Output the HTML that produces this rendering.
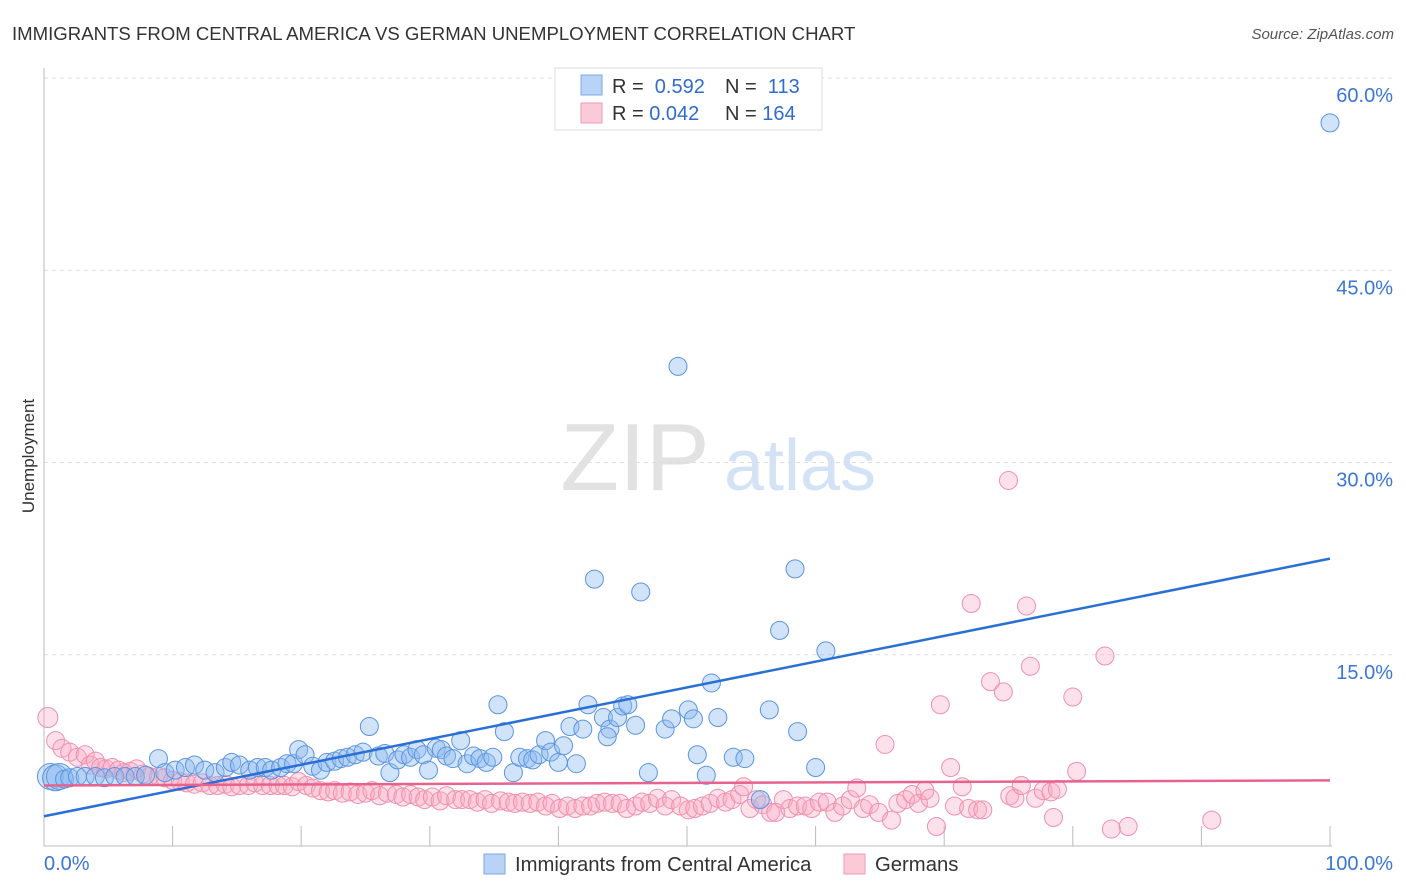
<!DOCTYPE html>
<html><head><meta charset="utf-8">
<style>
body{margin:0;background:#fff;font-family:"Liberation Sans",sans-serif;}
#wrap{position:relative;width:1406px;height:892px;overflow:hidden;}
svg text{font-family:"Liberation Sans",sans-serif;}
</style></head>
<body>
<div id="wrap">
<svg id="chart" width="1406" height="892">
  <text x="12" y="40" font-size="18.6" fill="#333">IMMIGRANTS FROM CENTRAL AMERICA VS GERMAN UNEMPLOYMENT CORRELATION CHART</text>
  <text x="1394" y="39" font-size="15" fill="#555" font-style="italic" text-anchor="end">Source: ZipAtlas.com</text>
  <text x="34" y="456" font-size="17" fill="#333" text-anchor="middle" transform="rotate(-90 34 456)">Unemployment</text>
  <g>
    <text x="635" y="490" font-size="96" fill="#e2e2e2" font-family="Liberation Serif" text-anchor="middle">ZIP</text>
    <text x="800" y="490" font-size="72" fill="#d3e2f4" text-anchor="middle">atlas</text>
  </g>
  <g id="grid"></g>
  <g id="axes"></g>
  <g id="pink"></g>
  <g id="blue"></g>
  <g id="trends"></g>
  <g>
    <rect x="555" y="68" width="267" height="62" fill="#fff" stroke="#ddd"/>
    <rect x="581" y="75" width="21" height="20" fill="#b8d3f5" stroke="#7aaae6"/>
    <text x="612" y="93" font-size="20" fill="#333">R = <tspan fill="#2f6bd0">&#160;0.592</tspan></text>
    <text x="725" y="93" font-size="20" fill="#333">N = <tspan fill="#2f6bd0">&#160;113</tspan></text>
    <rect x="581" y="103" width="21" height="20" fill="#fbcad8" stroke="#f09ab4"/>
    <text x="612" y="120" font-size="20" fill="#333">R = <tspan fill="#2f6bd0">0.042</tspan></text>
    <text x="725" y="120" font-size="20" fill="#333">N = <tspan fill="#2f6bd0">164</tspan></text>
  </g>
  <g>
    <rect x="484" y="854" width="21" height="20" fill="#b8d3f5" stroke="#7aaae6"/>
    <text x="515" y="871" font-size="20.3" fill="#333">Immigrants from Central America</text>
    <rect x="844" y="854" width="21" height="20" fill="#fbcad8" stroke="#f09ab4"/>
    <text x="875" y="871" font-size="20.3" fill="#333">Germans</text>
  </g>
</svg>
</div>
<script>
const yTicks=[15,30,45,60];
const yTickLabels=["15.0%","30.0%","45.0%","60.0%"];
const xTickCount=10;
const xLabels=["0.0%","100.0%"];
const blueX=[0.5,0.9,1.2,1.6,2.0,2.6,3.2,4.0,4.7,5.5,6.3,7.1,7.9,8.9,9.4,10.2,11.0,11.7,12.5,13.3,14.1,14.6,15.2,16.0,16.6,17.2,17.7,18.4,18.9,19.4,19.8,20.3,20.9,21.5,22.0,22.6,23.1,23.6,24.2,24.8,25.3,26.0,26.5,26.9,27.5,28.0,28.5,29.0,29.5,29.9,30.5,30.9,31.3,31.8,32.4,32.9,33.4,33.9,34.4,34.9,35.3,35.8,36.5,37.0,37.6,38.0,38.5,39.0,39.4,40.0,40.4,40.9,41.4,41.9,42.3,42.8,43.5,44.0,43.8,44.6,45.0,45.4,46.0,46.4,47.0,48.3,48.8,49.3,50.1,50.5,50.8,51.5,51.9,52.4,53.6,54.5,55.7,56.4,57.2,58.4,58.6,60.0,60.8,100];
const blueY=[5.5,5.4,5.5,5.3,5.4,5.5,5.5,5.5,5.4,5.5,5.5,5.5,5.6,6.9,5.8,6.0,6.2,6.4,6.0,5.8,6.2,6.6,6.4,6.0,6.2,6.2,6.0,6.2,6.5,6.5,7.6,7.2,6.3,6.0,6.6,6.7,6.9,7.0,7.2,7.4,9.4,7.1,7.3,5.8,6.8,7.2,7.0,7.6,7.2,6.0,7.7,7.6,7.1,6.9,8.3,6.5,7.1,6.9,6.6,7.0,11.1,9.0,5.8,7.0,6.9,6.8,7.2,8.3,7.4,6.6,7.9,9.4,6.5,9.2,11.1,20.9,10.1,9.2,8.6,10.1,11.0,11.1,9.5,19.9,5.8,9.2,10.0,37.5,10.7,10.0,7.2,5.6,12.8,10.1,7.0,6.9,3.7,10.7,16.9,21.7,9.0,6.2,15.3,56.5];
const pinkX=[0.3,0.9,1.4,2.0,2.6,3.2,3.6,4.0,4.4,4.8,5.3,5.8,6.2,6.7,7.2,7.7,8.2,8.9,9.4,10.0,10.6,11.1,11.7,12.3,12.9,13.5,14.1,14.6,15.2,15.9,16.4,17.0,17.6,18.2,18.7,19.3,19.8,20.4,20.9,21.5,22.1,22.6,23.2,23.8,24.4,25.0,25.5,26.1,26.7,27.4,27.9,28.5,29.1,29.6,30.2,30.8,31.3,32.0,32.5,33.1,33.7,34.3,34.8,35.5,36.1,36.6,37.2,37.8,38.4,39.0,39.5,40.1,40.7,41.3,41.9,42.5,43.0,43.6,44.2,44.8,45.3,46.0,46.5,47.1,47.7,48.3,48.8,49.5,50.1,50.6,51.2,51.8,52.4,53.0,53.5,54.1,54.4,54.9,55.4,55.9,56.5,56.9,57.5,58.0,58.6,59.2,59.7,60.3,60.9,61.5,62.1,62.7,63.2,63.7,64.2,64.9,65.4,65.9,66.4,67.0,67.5,68.0,68.5,68.9,69.4,69.7,70.5,70.8,71.4,71.9,72.1,72.6,73.0,73.6,74.6,75.1,75.0,75.5,76.0,76.4,76.7,77.1,77.7,78.3,78.5,78.8,80.0,80.3,82.5,83.0,84.3,90.8];
const pinkY=[10.1,8.3,7.7,7.4,7.0,7.2,6.4,6.7,6.2,6.1,6.2,6.0,5.8,5.9,6.1,5.7,5.5,5.5,5.4,5.2,5.1,5.0,4.9,5.0,4.8,4.8,4.9,4.7,4.8,4.8,5.0,4.8,4.8,4.8,4.8,4.7,5.1,4.8,4.6,4.4,4.3,4.4,4.2,4.3,4.1,4.2,4.4,4.0,4.2,4.1,3.9,4.1,3.9,3.7,3.9,3.6,4.0,3.7,3.7,3.7,3.5,3.7,3.4,3.6,3.5,3.4,3.5,3.4,3.5,3.2,3.4,3.0,3.2,3.0,3.2,3.2,3.4,3.5,3.4,3.4,3.0,3.2,3.5,3.4,3.8,3.2,3.7,3.2,2.9,3.0,3.2,3.4,3.8,3.5,3.7,4.1,4.7,3.0,3.7,3.3,2.7,2.7,3.7,3.0,3.2,3.2,3.0,3.5,3.5,2.7,3.2,3.7,4.6,3.0,3.3,2.7,8.0,2.1,3.4,3.7,4.1,3.4,4.4,3.8,1.6,11.1,6.2,3.2,4.7,3.0,19.0,2.9,2.9,12.9,12.1,4.0,28.6,3.8,4.8,18.8,14.1,3.8,4.4,4.3,2.3,4.5,11.7,5.9,14.9,1.4,1.6,2.1];
const blueTrend=[2.4,22.5];
const pinkTrend=[4.8,5.2];

const X0=44,X1=1330,Y0=847,Y60=78;
const xs=v=>X0+(X1-X0)*v/100;
const ys=v=>Y0-(Y0-Y60)*v/60;
const NS='http://www.w3.org/2000/svg';
function mk(tag,attrs,parent){const e=document.createElementNS(NS,tag);for(const k in attrs)e.setAttribute(k,attrs[k]);parent.appendChild(e);return e;}
const grid=document.getElementById('grid'),axes=document.getElementById('axes');
yTicks.forEach((t,i)=>{
  const l=mk('line',{x1:X0,x2:1394,y1:ys(t),y2:ys(t),stroke:'#ddd','stroke-dasharray':'4,4'},grid);
  
  
  const tx=mk('text',{x:1393,y:ys(t)+24,'font-size':20,fill:'#3a76d6','text-anchor':'end'},axes);
  tx.textContent=yTickLabels[i];
  
  
});
const yax=mk('line',{x1:X0,x2:X0,y1:68,y2:846,stroke:'#bbb'},axes);


const xax=mk('line',{x1:X0,x2:1332,y1:846,y2:846,stroke:'#bbb'},axes);


for(let i=1;i<=xTickCount;i++){
  const x=xs(i*100/xTickCount);
  const tk=mk('line',{x1:x,x2:x,y1:826,y2:846,stroke:'#bbb'},axes);
  
  
}
const xl0=mk('text',{x:X0,y:870,'font-size':20,fill:'#3a76d6'},axes);xl0.textContent=xLabels[0];


const xl1=mk('text',{x:1393,y:870,'font-size':20,fill:'#3a76d6','text-anchor':'end'},axes);xl1.textContent=xLabels[1];



const pg=document.getElementById('pink');
pinkX.forEach((x,i)=>{
  const c=mk('circle',{cx:xs(x),cy:ys(pinkY[i]),r:i===0?10:9,fill:'rgba(248,170,195,0.35)',stroke:'#f090ae','stroke-width':1},pg);
  
  
});
const bg=document.getElementById('blue');
blueX.forEach((x,i)=>{
  const c=mk('circle',{cx:xs(x),cy:ys(blueY[i]),r:i<3?13:9,fill:'rgba(140,185,240,0.4)',stroke:'#5a95e0','stroke-width':1},bg);
  
  
});
const tg=document.getElementById('trends');
const bt=mk('line',{x1:xs(0),y1:ys(blueTrend[0]),x2:xs(100),y2:ys(blueTrend[1]),stroke:'#2a6fd6','stroke-width':2.5},tg);


const pt=mk('line',{x1:xs(0),y1:ys(pinkTrend[0]),x2:xs(100),y2:ys(pinkTrend[1]),stroke:'#e8628e','stroke-width':2.5},tg);


</script>
</body></html>
